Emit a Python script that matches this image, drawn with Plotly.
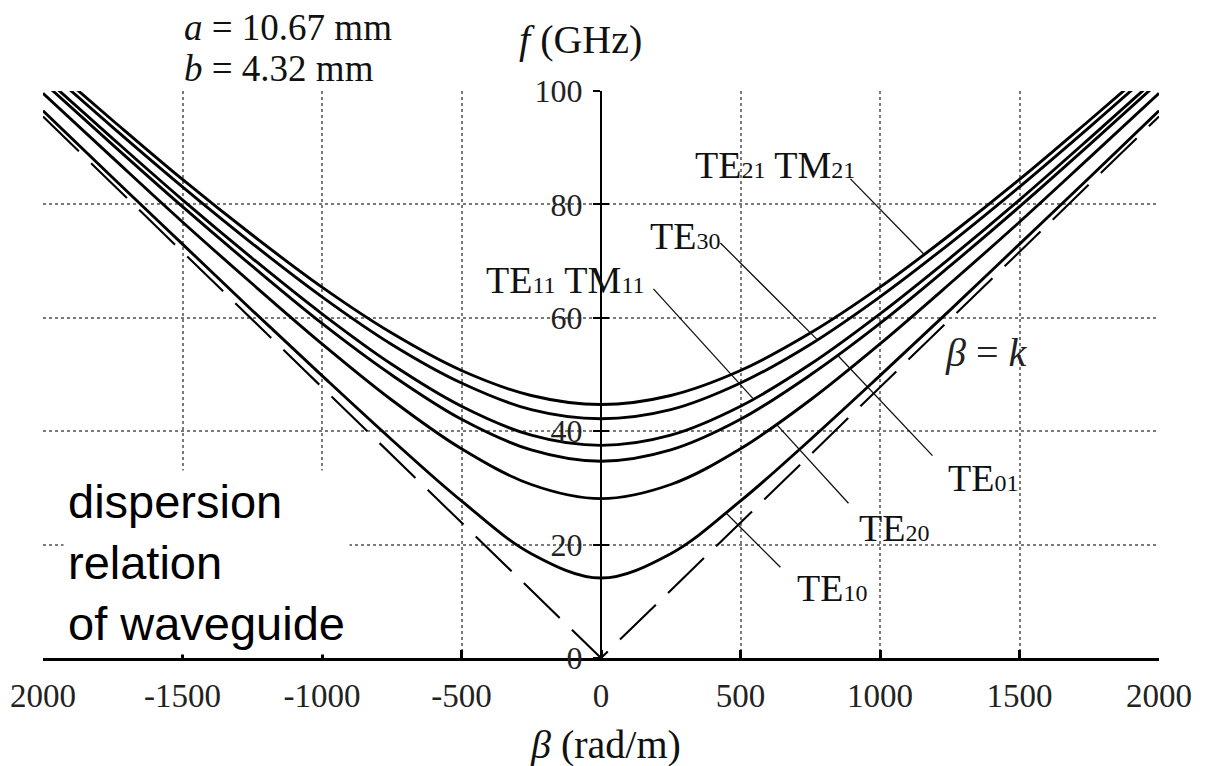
import plotly.graph_objects as go

# ---------------- data ----------------
BETA = [-2000, -1750, -1500, -1250, -1000, -750, -500, -250, 0,
        250, 500, 750, 1000, 1250, 1500, 1750, 2000]          # rad/m

F_TE10 = [96.5, 84.7, 73.0, 61.3, 49.8, 38.5, 27.7, 18.4, 14.1,
          18.4, 27.7, 38.5, 49.8, 61.3, 73.0, 84.7, 96.5]
F_TE20 = [99.6, 88.2, 76.9, 66.0, 55.4, 45.5, 36.9, 30.6, 28.1,
          30.6, 36.9, 45.5, 55.4, 66.0, 76.9, 88.2, 99.6]
F_TE01 = [101.6, 90.5, 79.6, 69.1, 59.0, 49.9, 42.1, 36.7, 34.7,
          36.7, 42.1, 49.9, 59.0, 69.1, 79.6, 90.5, 101.6]
F_TE11 = [102.6, 91.6, 80.8, 70.5, 60.7, 51.8, 44.4, 39.3, 37.5,
          39.3, 44.4, 51.8, 60.7, 70.5, 80.8, 91.6, 102.6]
F_TE30 = [104.4, 93.6, 83.1, 73.1, 63.7, 55.3, 48.5, 43.8, 42.2,
          43.8, 48.5, 55.3, 63.7, 73.1, 83.1, 93.6, 104.4]
F_TE21 = [105.4, 94.8, 84.4, 74.6, 65.4, 57.3, 50.7, 46.3, 44.7,
          46.3, 50.7, 57.3, 65.4, 74.6, 84.4, 94.8, 105.4]

LIGHT_BETA = [-2000, 0, 2000]       # beta = k line
LIGHT_F = [95.5, 0, 95.5]

X_TICKS = [-2000, -1500, -1000, -500, 0, 500, 1000, 1500, 2000]
X_TICK_TEXT = ["2000", "-1500", "-1000", "-500", "0", "500", "1000", "1500", "2000"]
Y_TICKS = [0, 20, 40, 60, 80, 100]

MODES = [F_TE10, F_TE20, F_TE01, F_TE11, F_TE30, F_TE21]

# ---------------- styling ----------------
SERIF = "Liberation Serif, Times New Roman, serif"
SANS = "Liberation Sans, Arial, sans-serif"
GRID = "#7a7a7a"


def sub(main, s):
    return f'{main}<span style="font-size:24px">{s}</span>'


fig = go.Figure()
for f in MODES:
    fig.add_trace(go.Scatter(x=BETA, y=f, mode="lines",
                             line=dict(color="black", width=2.9, shape="spline", smoothing=1.0),
                             hoverinfo="skip", showlegend=False))

fig.add_trace(go.Scatter(x=LIGHT_BETA, y=LIGHT_F, mode="lines", yaxis="y2",
                         line=dict(color="black", width=2.1, dash="50px,17px"),
                         hoverinfo="skip", showlegend=False))

# mode labels (text, left x in beta, centre y in GHz)
labels = [
    (sub("TE", "21") + " " + sub("TM", "21"), 331, 87.0),
    (sub("TE", "30"), 167, 74.4),
    (sub("TE", "11") + " " + sub("TM", "11"), -421, 66.7),
    (sub("TE", "01"), 1235, 31.8),
    (sub("TE", "20"), 919, 23.0),
    (sub("TE", "10"), 697, 12.4),
]
annotations = []
for txt, bx, fy in labels:
    annotations.append(dict(text=txt, x=bx, y=fy, xref="x", yref="y",
                            xanchor="left", yanchor="middle", showarrow=False,
                            font=dict(family=SERIF, size=38, color="#111")))

annotations.append(dict(text="<i>β</i> = <i>k</i>", x=1224, y=53.9, xref="x", yref="y",
                        xanchor="left", yanchor="middle", showarrow=False,
                        font=dict(family=SERIF, size=40, color="#222")))

# page is offset by 8 px (body margin): plot area spans x 43..1159, y 91..658 in window pixels
W, H = 1213, 758
L, T, R, B = 35, 83, 62, 108


def px(xw):
    return (xw - 8 - L) / (W - L - R)


def py(yw):
    return (H - B - (yw - 8)) / (H - T - B)


annotations.append(dict(text="<i>f</i> (GHz)", x=px(580), y=py(40), xref="paper", yref="paper",
                        xanchor="center", yanchor="middle", showarrow=False,
                        font=dict(family=SERIF, size=40, color="#111")))
annotations.append(dict(text="<i>β</i> (rad/m)", x=px(605), y=py(744), xref="paper", yref="paper",
                        xanchor="center", yanchor="middle", showarrow=False,
                        font=dict(family=SERIF, size=40, color="#111")))
annotations.append(dict(text="<i>a</i> = 10.67 mm", x=px(182), y=py(27),
                        xref="paper", yref="paper", xanchor="left", yanchor="middle",
                        showarrow=False, font=dict(family=SERIF, size=37, color="#111")))
annotations.append(dict(text="<i>b</i> = 4.32 mm", x=px(182), y=py(69),
                        xref="paper", yref="paper", xanchor="left", yanchor="middle",
                        showarrow=False, font=dict(family=SERIF, size=37, color="#111")))
annotations.append(dict(text="dispersion<br>relation<br>of waveguide", x=px(63), y=py(562),
                        xref="paper", yref="paper", xanchor="left", yanchor="middle",
                        align="left", showarrow=False, bgcolor="white", borderpad=4,
                        font=dict(family=SANS, size=47, color="black")))

# leader lines from labels to curves (beta, GHz)
leaders = [
    (894, 84.5, 1156, 71.3),
    (428, 73.2, 776, 56.1),
    (188, 65.1, 546, 45.7),
    (1188, 35.7, 848, 53.4),
    (887, 27.3, 629, 41.2),
    (643, 16.0, 450, 25.5),
]
shapes = [dict(type="line", xref="x", yref="y", x0=a, y0=b, x1=c, y1=d,
               line=dict(color="#111", width=1.3), layer="above")
          for a, b, c, d in leaders]

fig.update_layout(
    width=W, height=H,
    margin=dict(l=L, r=R, t=T, b=B),
    paper_bgcolor="white", plot_bgcolor="white",
    showlegend=False,
    annotations=annotations,
    shapes=shapes,
    xaxis=dict(range=[-2000, 2000], tickvals=X_TICKS, ticktext=X_TICK_TEXT,
               ticks="inside", ticklen=8, tickwidth=2.5, tickcolor="black",
               showline=True, linewidth=3, linecolor="black", automargin=False,
               showgrid=True, gridcolor=GRID, griddash="dot", gridwidth=1.5,
               zeroline=False, ticklabelstandoff=6,
               tickfont=dict(family=SERIF, size=33, color="#222")),
    yaxis=dict(range=[0, 100], tickvals=Y_TICKS, anchor="free", position=0.5,
               ticks="outside", ticklen=7, tickwidth=2, tickcolor="black",
               showline=True, linewidth=2, linecolor="black", automargin=False,
               showgrid=True, gridcolor=GRID, griddash="dot", gridwidth=1.5,
               zeroline=False, ticklabelstandoff=4,
               tickfont=dict(family=SERIF, size=32, color="#222")),
    yaxis2=dict(range=[0, 100], tickvals=Y_TICKS, overlaying="y", anchor="free", position=0.5,
                ticks="inside", ticklen=7, tickwidth=2, tickcolor="black", automargin=False,
                showticklabels=False, showgrid=False, showline=False, zeroline=False),
)

fig.write_html("out.html")
